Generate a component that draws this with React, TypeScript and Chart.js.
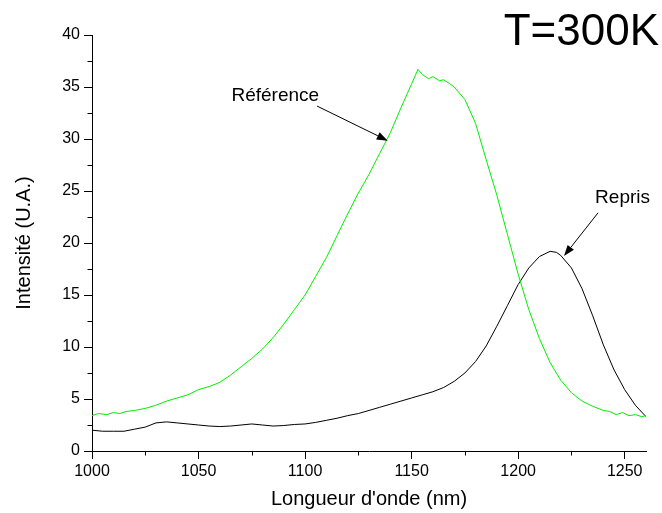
import React, { useEffect, useRef } from 'react';
import { Chart, registerables } from 'chart.js';

Chart.register(...registerables);

const FONT = '"Liberation Sans", Arial, sans-serif';

const referenceWavelengths = [
  1000, 1003, 1007, 1010, 1013, 1016, 1020, 1025, 1030, 1035, 1040, 1045, 1050, 1055, 1060, 1065, 1070, 1075,
  1080, 1085, 1090, 1095, 1100, 1105, 1110, 1115, 1120, 1125, 1130, 1135, 1140, 1145, 1150, 1153,
  1155, 1158, 1160, 1163, 1165, 1168, 1170, 1175, 1180, 1185, 1190, 1195, 1200, 1205, 1210, 1215,
  1220, 1225, 1230, 1235, 1240, 1243, 1246, 1249, 1252, 1255, 1258, 1260,
];
const referenceValues = [
  3.4, 3.6, 3.5, 3.7, 3.6, 3.8, 3.9, 4.1, 4.4, 4.8, 5.1, 5.4, 5.9, 6.2, 6.6, 7.3, 8.1, 8.9,
  9.8, 10.9, 12.2, 13.6, 15.0, 16.8, 18.6, 20.7, 22.8, 24.8, 26.6, 28.6, 30.6, 33.0, 35.3, 36.7,
  36.2, 35.8, 36.0, 35.6, 35.7, 35.3, 35.0, 33.8, 31.5, 28.0, 24.6, 20.8, 17.0, 13.6, 10.8, 8.5,
  6.8, 5.6, 4.8, 4.3, 3.9, 3.8, 3.5, 3.7, 3.4, 3.5, 3.3, 3.4,
];

const reprisWavelengths = [
  1000, 1005, 1010, 1015, 1020, 1025, 1030, 1035, 1040, 1045, 1050, 1055, 1060, 1065, 1070, 1075,
  1080, 1085, 1090, 1095, 1100, 1105, 1110, 1115, 1120, 1125, 1130, 1135, 1140, 1145, 1150, 1155,
  1160, 1165, 1170, 1175, 1180, 1185, 1190, 1195, 1200, 1205, 1210, 1215, 1218, 1220, 1225, 1230,
  1235, 1240, 1245, 1250, 1255, 1260,
];
const reprisValues = [
  2.0, 1.9, 1.9, 1.9, 2.1, 2.3, 2.7, 2.8, 2.7, 2.6, 2.5, 2.4, 2.35, 2.4, 2.5, 2.6,
  2.5, 2.4, 2.45, 2.55, 2.6, 2.75, 2.95, 3.15, 3.4, 3.6, 3.9, 4.2, 4.5, 4.8, 5.1, 5.4,
  5.7, 6.1, 6.7, 7.5, 8.6, 10.1, 12.0, 14.0, 16.0, 17.6, 18.7, 19.2, 19.1, 18.8, 17.6, 15.6,
  13.0, 10.2, 7.8, 5.9, 4.4, 3.3,
];

const xMajorTicks = [1000, 1050, 1100, 1150, 1200, 1250];
const xMinorTicks = [1025, 1075, 1125, 1175, 1225];
const yMajorTicks = [0, 5, 10, 15, 20, 25, 30, 35, 40];
const yMinorTicks = [2.5, 7.5, 12.5, 17.5, 22.5, 27.5, 32.5, 37.5];

const annotations = [
  { text: 'Référence', at: [1086, 33.65], tail: [1105.6, 33.17], tip: [1138.8, 29.84] },
  { text: 'Repris', at: [1249, 23.85], tail: [1237.5, 22.9], tip: [1221.5, 18.75] },
];
const titleText = 'T=300K';

const overlayPlugin = {
  id: 'overlay',
  afterDraw(chart: any) {
    const ctx = chart.ctx;
    const xs = chart.scales.x;
    const ys = chart.scales.y;
    ctx.save();
    ctx.strokeStyle = '#000';
    ctx.fillStyle = '#000';
    ctx.lineWidth = 1;
    ctx.beginPath();
    xMinorTicks.forEach((v) => {
      const px = Math.round(xs.getPixelForValue(v)) + 0.5;
      ctx.moveTo(px, ys.bottom);
      ctx.lineTo(px, ys.bottom + 4.5);
    });
    yMinorTicks.forEach((v) => {
      const py = Math.round(ys.getPixelForValue(v)) + 0.5;
      ctx.moveTo(xs.left - 4.5, py);
      ctx.lineTo(xs.left, py);
    });
    ctx.stroke();

    ctx.font = `19px ${FONT}`;
    ctx.textAlign = 'center';
    ctx.textBaseline = 'alphabetic';
    annotations.forEach((a) => {
      ctx.fillText(a.text, xs.getPixelForValue(a.at[0]), ys.getPixelForValue(a.at[1]));
      const x0 = xs.getPixelForValue(a.tail[0]);
      const y0 = ys.getPixelForValue(a.tail[1]);
      const x1 = xs.getPixelForValue(a.tip[0]);
      const y1 = ys.getPixelForValue(a.tip[1]);
      const ang = Math.atan2(y1 - y0, x1 - x0);
      const hl = 11;
      const hw = 4;
      const bx = x1 - hl * Math.cos(ang);
      const by = y1 - hl * Math.sin(ang);
      ctx.beginPath();
      ctx.moveTo(x0, y0);
      ctx.lineTo(bx, by);
      ctx.stroke();
      ctx.beginPath();
      ctx.moveTo(x1, y1);
      ctx.lineTo(bx + hw * Math.sin(ang), by - hw * Math.cos(ang));
      ctx.lineTo(bx - hw * Math.sin(ang), by + hw * Math.cos(ang));
      ctx.closePath();
      ctx.fill();
    });

    ctx.font = `44px ${FONT}`;
    ctx.textAlign = 'right';
    ctx.fillText(titleText, 659, 45);
    ctx.restore();
  },
};

export default function App() {
  const ref = useRef<HTMLCanvasElement | null>(null);
  useEffect(() => {
    if (!ref.current) return;
    const chart = new Chart(ref.current, {
      type: 'line',
      data: {
        datasets: [
          {
            label: 'Référence',
            data: referenceWavelengths.map((x, i) => ({ x, y: referenceValues[i] })),
            borderColor: '#00ee00',
            borderWidth: 1,
            pointRadius: 0,
            tension: 0,
          },
          {
            label: 'Repris',
            data: reprisWavelengths.map((x, i) => ({ x, y: reprisValues[i] })),
            borderColor: '#000000',
            borderWidth: 1,
            pointRadius: 0,
            tension: 0,
          },
        ],
      },
      options: {
        animation: false,
        responsive: false,
        events: [],
        layout: { padding: { top: 35, right: 16, left: 0, bottom: 0 } },
        plugins: { legend: { display: false }, tooltip: { enabled: false } },
        scales: {
          x: {
            type: 'linear',
            min: 1000,
            max: 1260,
            afterBuildTicks: (s: any) => {
              s.ticks = xMajorTicks.map((v) => ({ value: v }));
            },
            afterFit: (s: any) => {
              s.height = 62;
            },
            grid: { display: true, drawOnChartArea: false, tickLength: 8, tickColor: '#000', color: '#000' },
            border: { display: true, color: '#000', width: 1 },
            ticks: {
              color: '#000',
              font: { family: FONT, size: 16 },
              padding: 3,
              maxRotation: 0,
              callback: (v: any) => String(v),
            },
            title: {
              display: true,
              text: "Longueur d'onde (nm)",
              color: '#000',
              font: { family: FONT, size: 20 },
              padding: { top: 0, bottom: 2 },
            },
          },
          y: {
            type: 'linear',
            min: 0,
            max: 40,
            afterBuildTicks: (s: any) => {
              s.ticks = yMajorTicks.map((v) => ({ value: v }));
            },
            afterFit: (s: any) => {
              s.width = 92;
            },
            grid: { display: true, drawOnChartArea: false, tickLength: 8, tickColor: '#000', color: '#000' },
            border: { display: true, color: '#000', width: 1 },
            ticks: { color: '#000', font: { family: FONT, size: 16 }, padding: 4, callback: (v: any) => String(v) },
            title: {
              display: true,
              text: 'Intensité (U.A.)',
              color: '#000',
              font: { family: FONT, size: 20 },
              padding: { top: 12, bottom: 0 },
            },
          },
        },
      },
      plugins: [overlayPlugin],
    });
    return () => chart.destroy();
  }, []);
  return (
    <div style={{ position: 'absolute', left: 0, top: 0, width: 662, height: 513, background: '#fff' }}>
      <canvas ref={ref} width={662} height={513} style={{ display: 'block' }} />
    </div>
  );
}
